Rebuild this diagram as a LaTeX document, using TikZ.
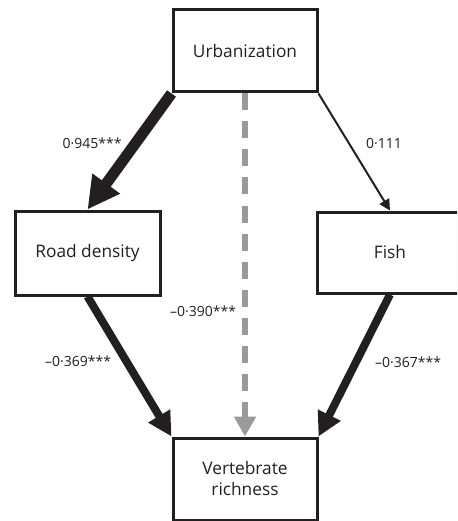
\documentclass[tikz,border=0pt]{standalone}
\usepackage{fontspec}
\setmainfont{Open Sans}
\usepackage{tikz}
\usetikzlibrary{arrows.meta,shadows}
\definecolor{ink}{HTML}{231F20}
\definecolor{dashgray}{HTML}{9A9A9C}
\tikzstyle{box}=[draw=ink, line width=3pt, fill=white, text=ink, align=center,
  font=\fontsize{17.3}{21}\selectfont, inner sep=0pt,
  drop shadow={opacity=0.25, shadow xshift=1.5pt, shadow yshift=-1.5pt}]
\tikzstyle{coef}=[text=ink, font=\fontsize{14}{17}\selectfont, inner sep=0pt]
\tikzstyle{thick arrow}=[draw=ink, line width=8pt, -{Triangle[length=24pt,width=24pt]}]
\tikzstyle{thin arrow}=[draw=ink, line width=2pt, -{Triangle[length=11pt,width=11pt]}]
\tikzstyle{gray arrow}=[draw=dashgray, line width=6.5pt, dash pattern=on 17pt off 11pt,
  -{Triangle[length=20pt,width=21pt]}]

\begin{document}
\begin{tikzpicture}[x=1pt, y=-1pt]

\clip (0,0) rectangle (457,521);

\node [box, minimum width=144pt, minimum height=82pt] (urban) at (245,51) {Urbanization};
\node [box, minimum width=145pt, minimum height=84pt] (road) at (87.5,253) {Road density};
\node [box, minimum width=146pt, minimum height=81pt] (fish) at (390,252.5) {Fish};
\node [box, minimum width=144pt, minimum height=82pt] (vert) at (245,479) {Vertebrate\\richness};

\draw [thick arrow, line width=11pt, -{Triangle[length=32pt,width=32pt]}] (urban.south west) -- (road.north);
\draw [thin arrow] (urban.south east) -- (fish.north);
\draw [gray arrow] (urban.south) -- (vert.north);
\draw [thick arrow] (road.south) -- (vert.north west);
\draw [thick arrow] (fish.south) -- (vert.north east);

\node [coef] (c945) at (92,143) {0·945***};
\node [coef] (c111) at (384,143) {0·111};
\node [coef] (c390) at (203,311) {–0·390***};
\node [coef] (c369) at (78,361) {–0·369***};
\node [coef] (c367) at (408,362) {–0·367***};

\end{tikzpicture}
\end{document}
